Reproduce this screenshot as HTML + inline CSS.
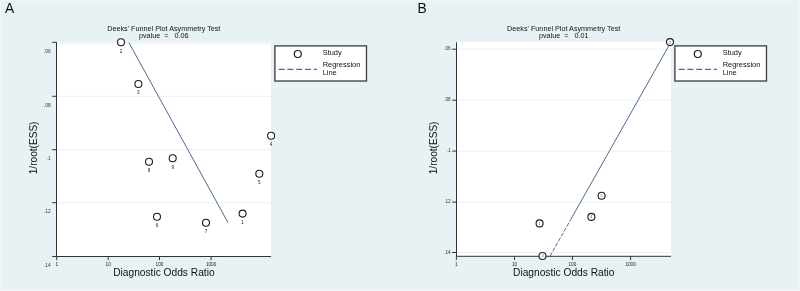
<!DOCTYPE html>
<html><head><meta charset="utf-8"><style>
html,body{margin:0;padding:0;background:#e8f2f5;width:800px;height:291px;overflow:hidden}
svg{display:block;will-change:transform}
text{font-family:"Liberation Sans",sans-serif}
</style></head><body>
<svg width="800" height="291" viewBox="0 0 800 291" font-family="Liberation Sans">
<rect width="800" height="291" fill="#e8f2f5"/>
<rect x="0" y="0" width="1" height="291" fill="#f2f7f9"/><rect x="799" y="0" width="1" height="291" fill="#f2f7f9"/>
<rect x="0" y="0" width="800" height="1" fill="#f0f6f8"/><rect x="0" y="289.5" width="800" height="1.5" fill="#f2f7f9"/>
<rect x="56.5" y="42.5" width="214.5" height="214.0" fill="#fff"/>
<line x1="56.5" y1="43.4" x2="271" y2="43.4" stroke="#e8f2f5" stroke-width="1"/>
<line x1="56.5" y1="96.3" x2="271" y2="96.3" stroke="#e8f2f5" stroke-width="1"/>
<line x1="56.5" y1="149.7" x2="271" y2="149.7" stroke="#e8f2f5" stroke-width="1"/>
<line x1="56.5" y1="202.7" x2="271" y2="202.7" stroke="#e8f2f5" stroke-width="1"/>
<line x1="56.5" y1="42.3" x2="56.5" y2="256.5" stroke="#333" stroke-width="1"/>
<line x1="52.2" y1="42.3" x2="56.5" y2="42.3" stroke="#333" stroke-width="1"/>
<text x="50.7" y="52.964" font-size="4.9" text-anchor="end" fill="#333">.06</text>
<line x1="52.2" y1="96.3" x2="56.5" y2="96.3" stroke="#333" stroke-width="1"/>
<text x="50.7" y="106.964" font-size="4.9" text-anchor="end" fill="#333">.08</text>
<line x1="52.2" y1="149.7" x2="56.5" y2="149.7" stroke="#333" stroke-width="1"/>
<text x="50.7" y="160.364" font-size="4.9" text-anchor="end" fill="#333">.1</text>
<line x1="52.2" y1="202.7" x2="56.5" y2="202.7" stroke="#333" stroke-width="1"/>
<text x="50.7" y="213.364" font-size="4.9" text-anchor="end" fill="#333">.12</text>
<line x1="52.2" y1="256.5" x2="56.5" y2="256.5" stroke="#333" stroke-width="1"/>
<text x="50.7" y="267.164" font-size="4.9" text-anchor="end" fill="#333">.14</text>
<line x1="56.5" y1="256.5" x2="271" y2="256.5" stroke="#333" stroke-width="1"/>
<line x1="56.7" y1="256.5" x2="56.7" y2="260.2" stroke="#333" stroke-width="1"/>
<text x="56.7" y="265.8" font-size="4.7" text-anchor="middle" fill="#222">1</text>
<line x1="108.2" y1="256.5" x2="108.2" y2="260.2" stroke="#333" stroke-width="1"/>
<text x="108.2" y="265.8" font-size="4.7" text-anchor="middle" fill="#222">10</text>
<line x1="159.5" y1="256.5" x2="159.5" y2="260.2" stroke="#333" stroke-width="1"/>
<text x="159.5" y="265.8" font-size="4.7" text-anchor="middle" fill="#222">100</text>
<line x1="211.1" y1="256.5" x2="211.1" y2="260.2" stroke="#333" stroke-width="1"/>
<text x="211.1" y="265.8" font-size="4.7" text-anchor="middle" fill="#222">1000</text>
<text x="163.9" y="276.4" font-size="10.2" text-anchor="middle" fill="#111">Diagnostic Odds Ratio</text>
<text transform="translate(36.7,147.9) rotate(-90)" font-size="10.1" text-anchor="middle" fill="#111">1/root(ESS)</text>
<text x="163.8" y="30.7" font-size="7.22" text-anchor="middle" fill="#111">Deeks' Funnel Plot Asymmetry Test</text>
<text x="163.8" y="37.6" font-size="7.22" text-anchor="middle" fill="#111" xml:space="preserve">pvalue  =   0.06</text>
<text x="5.0" y="12.6" font-size="13.8" fill="#111">A</text>
<line x1="128.9" y1="42.6" x2="228.0" y2="222.6" stroke="#4d6892" stroke-width="1.0"/>
<circle cx="121.0" cy="42.2" r="3.5" fill="#fff" stroke="#1c1c1c" stroke-width="1.1"/>
<text x="121.0" y="52.5" font-size="4.6" text-anchor="middle" fill="#222">2</text>
<circle cx="138.4" cy="84.0" r="3.5" fill="#fff" stroke="#1c1c1c" stroke-width="1.1"/>
<text x="138.4" y="94.3" font-size="4.6" text-anchor="middle" fill="#222">3</text>
<circle cx="149.0" cy="161.7" r="3.5" fill="#fff" stroke="#1c1c1c" stroke-width="1.1"/>
<text x="149.0" y="172.0" font-size="4.6" text-anchor="middle" fill="#222">8</text>
<circle cx="172.7" cy="158.3" r="3.5" fill="#fff" stroke="#1c1c1c" stroke-width="1.1"/>
<text x="172.7" y="168.60000000000002" font-size="4.6" text-anchor="middle" fill="#222">9</text>
<circle cx="157.0" cy="216.8" r="3.5" fill="#fff" stroke="#1c1c1c" stroke-width="1.1"/>
<text x="157.0" y="227.10000000000002" font-size="4.6" text-anchor="middle" fill="#222">6</text>
<circle cx="206.0" cy="222.7" r="3.5" fill="#fff" stroke="#1c1c1c" stroke-width="1.1"/>
<text x="206.0" y="233.0" font-size="4.6" text-anchor="middle" fill="#222">7</text>
<circle cx="242.6" cy="213.6" r="3.5" fill="#fff" stroke="#1c1c1c" stroke-width="1.1"/>
<text x="242.6" y="223.9" font-size="4.6" text-anchor="middle" fill="#222">1</text>
<circle cx="259.3" cy="173.7" r="3.5" fill="#fff" stroke="#1c1c1c" stroke-width="1.1"/>
<text x="259.3" y="184.0" font-size="4.6" text-anchor="middle" fill="#222">5</text>
<circle cx="271.1" cy="135.7" r="3.5" fill="#fff" stroke="#1c1c1c" stroke-width="1.1"/>
<text x="271.1" y="146.0" font-size="4.6" text-anchor="middle" fill="#222">4</text>
<rect x="274.9" y="45.9" width="91.6" height="35.1" fill="#fff" stroke="#3a3a3a" stroke-width="1.3"/>
<circle cx="297.8" cy="54.0" r="3.5" fill="none" stroke="#1c1c1c" stroke-width="1.2"/>
<line x1="278.7" y1="69.4" x2="317.0" y2="69.4" stroke="#4d6892" stroke-width="1.1" stroke-dasharray="6 2.75"/>
<text x="322.7" y="55.1" font-size="7.45" fill="#111">Study</text>
<text x="322.7" y="67.0" font-size="7.45" fill="#111">Regression</text>
<text x="322.7" y="74.6" font-size="7.45" fill="#111">Line</text>
<rect x="456.5" y="42" width="214.5" height="214.3" fill="#fff"/>
<line x1="456.5" y1="49.2" x2="671" y2="49.2" stroke="#e8f2f5" stroke-width="1"/>
<line x1="456.5" y1="100.2" x2="671" y2="100.2" stroke="#e8f2f5" stroke-width="1"/>
<line x1="456.5" y1="151.1" x2="671" y2="151.1" stroke="#e8f2f5" stroke-width="1"/>
<line x1="456.5" y1="202.1" x2="671" y2="202.1" stroke="#e8f2f5" stroke-width="1"/>
<line x1="456.5" y1="252.5" x2="671" y2="252.5" stroke="#e8f2f5" stroke-width="1"/>
<line x1="456.5" y1="42.3" x2="456.5" y2="256.3" stroke="#333" stroke-width="1"/>
<line x1="452.2" y1="49.2" x2="456.5" y2="49.2" stroke="#333" stroke-width="1"/>
<text x="450.7" y="50.292" font-size="4.7" text-anchor="end" fill="#333">.06</text>
<line x1="452.2" y1="100.2" x2="456.5" y2="100.2" stroke="#333" stroke-width="1"/>
<text x="450.7" y="101.292" font-size="4.7" text-anchor="end" fill="#333">.08</text>
<line x1="452.2" y1="151.1" x2="456.5" y2="151.1" stroke="#333" stroke-width="1"/>
<text x="450.7" y="152.192" font-size="4.7" text-anchor="end" fill="#333">.1</text>
<line x1="452.2" y1="202.1" x2="456.5" y2="202.1" stroke="#333" stroke-width="1"/>
<text x="450.7" y="203.192" font-size="4.7" text-anchor="end" fill="#333">.12</text>
<line x1="452.2" y1="252.5" x2="456.5" y2="252.5" stroke="#333" stroke-width="1"/>
<text x="450.7" y="253.592" font-size="4.7" text-anchor="end" fill="#333">.14</text>
<line x1="456.5" y1="256.3" x2="671" y2="256.3" stroke="#333" stroke-width="1"/>
<line x1="456.4" y1="256.3" x2="456.4" y2="260.0" stroke="#333" stroke-width="1"/>
<text x="456.4" y="265.8" font-size="4.7" text-anchor="middle" fill="#222">1</text>
<line x1="514.5" y1="256.3" x2="514.5" y2="260.0" stroke="#333" stroke-width="1"/>
<text x="514.5" y="265.8" font-size="4.7" text-anchor="middle" fill="#222">10</text>
<line x1="572.4" y1="256.3" x2="572.4" y2="260.0" stroke="#333" stroke-width="1"/>
<text x="572.4" y="265.8" font-size="4.7" text-anchor="middle" fill="#222">100</text>
<line x1="630.6" y1="256.3" x2="630.6" y2="260.0" stroke="#333" stroke-width="1"/>
<text x="630.6" y="265.8" font-size="4.7" text-anchor="middle" fill="#222">1000</text>
<text x="563.75" y="276.4" font-size="10.2" text-anchor="middle" fill="#111">Diagnostic Odds Ratio</text>
<text transform="translate(436.7,147.9) rotate(-90)" font-size="10.1" text-anchor="middle" fill="#111">1/root(ESS)</text>
<text x="563.7" y="30.7" font-size="7.22" text-anchor="middle" fill="#111">Deeks' Funnel Plot Asymmetry Test</text>
<text x="563.7" y="37.6" font-size="7.22" text-anchor="middle" fill="#111" xml:space="preserve">pvalue  =   0.01</text>
<text x="417.6" y="12.6" font-size="13.8" fill="#111">B</text>
<line x1="550.0" y1="256.2" x2="570.45" y2="220.0" stroke="#4d6892" stroke-width="1.0" stroke-dasharray="4 1.7"/>
<line x1="570.45" y1="220.0" x2="668.7" y2="46.0" stroke="#4d6892" stroke-width="1.0"/>
<circle cx="670.0" cy="42.1" r="3.5" fill="#fff" stroke="#1c1c1c" stroke-width="1.1"/>
<text x="670.0" y="43.5" font-size="3.9" text-anchor="middle" fill="#555">2</text>
<circle cx="601.6" cy="195.7" r="3.5" fill="#fff" stroke="#1c1c1c" stroke-width="1.1"/>
<text x="601.6" y="197.1" font-size="3.9" text-anchor="middle" fill="#555">5</text>
<circle cx="591.4" cy="216.9" r="3.5" fill="#fff" stroke="#1c1c1c" stroke-width="1.1"/>
<text x="591.4" y="218.3" font-size="3.9" text-anchor="middle" fill="#555">4</text>
<circle cx="539.6" cy="223.4" r="3.5" fill="#fff" stroke="#1c1c1c" stroke-width="1.1"/>
<text x="539.6" y="224.8" font-size="3.9" text-anchor="middle" fill="#555">1</text>
<circle cx="542.5" cy="256.0" r="3.5" fill="#fff" stroke="#1c1c1c" stroke-width="1.1"/>
<text x="542.5" y="257.4" font-size="3.9" text-anchor="middle" fill="#555">3</text>
<rect x="674.9" y="45.9" width="91.6" height="35.1" fill="#fff" stroke="#3a3a3a" stroke-width="1.3"/>
<circle cx="697.8" cy="54.0" r="3.5" fill="none" stroke="#1c1c1c" stroke-width="1.2"/>
<line x1="678.7" y1="69.4" x2="717.0" y2="69.4" stroke="#4d6892" stroke-width="1.1" stroke-dasharray="6 2.75"/>
<text x="722.7" y="55.1" font-size="7.45" fill="#111">Study</text>
<text x="722.7" y="67.0" font-size="7.45" fill="#111">Regression</text>
<text x="722.7" y="74.6" font-size="7.45" fill="#111">Line</text>
</svg>
</body></html>
